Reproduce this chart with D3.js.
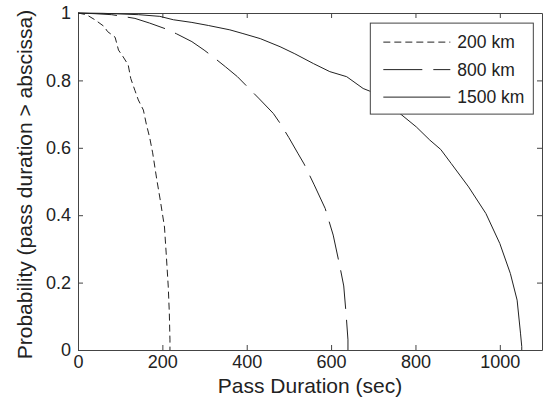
<!DOCTYPE html>
<html>
<head>
<meta charset="utf-8">
<script src="https://cdn.jsdelivr.net/npm/d3@7"></script>
<style>
  body { margin: 0; background: #fff; }
  text { font-family: "Liberation Sans", Arial, sans-serif; fill: #222; }
</style>
</head>
<body>
<div id="plot"></div>
<script>
// pass-duration survival curves
const sec200 = [0, 20, 40, 62, 70, 88, 96, 107, 119, 125, 135, 143, 155, 162, 170, 177, 187, 195, 205, 209, 214, 216.5, 218, 218];
const p200   = [1, 0.995, 0.98, 0.96, 0.945, 0.928, 0.89, 0.87, 0.846, 0.806, 0.77, 0.742, 0.712, 0.67, 0.63, 0.585, 0.504, 0.445, 0.365, 0.288, 0.187, 0.11, 0.03, 0];

const sec800 = [0, 40, 80, 135, 170, 210, 234, 270, 299, 322, 350, 378, 400, 430, 463, 479, 500, 522, 536, 560, 586, 605, 621, 630, 636, 640, 640];
const p800   = [1, 0.998, 0.995, 0.984, 0.97, 0.952, 0.938, 0.915, 0.89, 0.868, 0.84, 0.811, 0.783, 0.745, 0.702, 0.673, 0.63, 0.582, 0.552, 0.49, 0.42, 0.341, 0.247, 0.19, 0.1, 0.03, 0];

const sec1500 = [0, 60, 144, 194, 226, 270, 309, 360, 391, 432, 479, 514, 558, 597, 637, 676, 692, 720, 763, 802, 834, 860, 885, 926, 967, 1000, 1025, 1041, 1049, 1052, 1052];
const p1500   = [1, 0.999, 0.995, 0.99, 0.98, 0.972, 0.963, 0.95, 0.939, 0.924, 0.9, 0.879, 0.85, 0.826, 0.811, 0.776, 0.768, 0.74, 0.702, 0.662, 0.623, 0.595, 0.553, 0.484, 0.405, 0.316, 0.227, 0.148, 0.05, 0.01, 0];

const seriesNames = ["200 km", "800 km", "1500 km"];
const xTicks = [0, 200, 400, 600, 800, 1000];
const yTicks = [0, 0.2, 0.4, 0.6, 0.8, 1];

const w = 544, h = 402;
var margin = {top: 13, right: 2, bottom: 52, left: 78},
    innerWidth = w - margin.left - margin.right,
    innerHeight = h - margin.top - margin.bottom;

var svg = d3.select("div#plot")
  .append("svg")
    .attr("width", w)
    .attr("height", h)
  .append("g")
    .attr("transform", `translate(${margin.left}, ${margin.top})`);

var xScale = d3.scaleLinear().domain([0, 1100]).range([0, innerWidth]);
var yScale = d3.scaleLinear().domain([0, 1]).range([innerHeight, 0]);

var axisColor = "#444";

// axes, ticks pointing inward on all four sides
svg.append("g")
  .attr("transform", `translate(0, ${innerHeight})`)
  .call(d3.axisBottom(xScale).tickValues(xTicks).tickSizeInner(-5).tickSizeOuter(0).tickPadding(5)
    .tickFormat(d3.format("d")));

svg.append("g")
  .attr("class", "noLabels")
  .call(d3.axisTop(xScale).tickValues(xTicks).tickSizeInner(-5).tickSizeOuter(0));

svg.append("g")
  .call(d3.axisLeft(yScale).tickValues(yTicks).tickSizeInner(-5).tickSizeOuter(0).tickPadding(7)
    .tickFormat(d => String(+d.toFixed(1))));

svg.append("g")
  .attr("class", "noLabels")
  .attr("transform", `translate(${innerWidth}, 0)`)
  .call(d3.axisRight(yScale).tickValues(yTicks).tickSizeInner(-5).tickSizeOuter(0));

svg.selectAll(".noLabels .tick text").remove();
svg.selectAll(".domain, .tick line").attr("stroke", axisColor);
svg.selectAll(".tick text").style("font-size", "18px").attr("fill", "#222");

// axis titles
svg.append("text")
  .attr("text-anchor", "middle")
  .attr("x", innerWidth / 2)
  .attr("y", innerHeight + 43)
  .style("font-size", "21px")
  .text("Pass Duration (sec)");

svg.append("text")
  .attr("transform", "rotate(-90)")
  .attr("text-anchor", "middle")
  .attr("x", -innerHeight / 2 - 3)
  .attr("y", -margin.left + 32)
  .style("font-size", "21px")
  .text("Probability (pass duration > abscissa)");

// curves
var curves = [
  {name: seriesNames[0], xs: sec200, ps: p200, dash: "7,4"},
  {name: seriesNames[1], xs: sec800, ps: p800, dash: "39,11"},
  {name: seriesNames[2], xs: sec1500, ps: p1500, dash: null}
];

var line = d3.line()
  .x(d => xScale(d[0]))
  .y(d => yScale(d[1]));

svg.append("g")
  .selectAll("path")
  .data(curves)
  .enter().append("path")
    .attr("d", c => line(c.xs.map((x, i) => [x, c.ps[i]])))
    .attr("fill", "none")
    .attr("stroke", "#222")
    .attr("stroke-width", 1)
    .attr("stroke-dasharray", c => c.dash);

// legend
var legend = svg.append("g")
  .attr("transform", `translate(${xScale(693)}, ${yScale(0.97)})`);

legend.append("rect")
  .attr("width", 163)
  .attr("height", 91)
  .attr("fill", "#fff")
  .attr("stroke", axisColor);

var rows = legend.selectAll("g.row")
  .data(curves)
  .enter().append("g")
    .attr("class", "row")
    .attr("transform", (d, i) => `translate(0, ${19 + i * 27.5})`);

rows.append("line")
  .attr("x1", 13).attr("x2", 80)
  .attr("stroke", "#222")
  .attr("stroke-dasharray", d => d.dash);

rows.append("text")
  .attr("x", 87)
  .attr("dy", "0.35em")
  .style("font-size", "17.5px")
  .text(d => d.name);
</script>
</body>
</html>
